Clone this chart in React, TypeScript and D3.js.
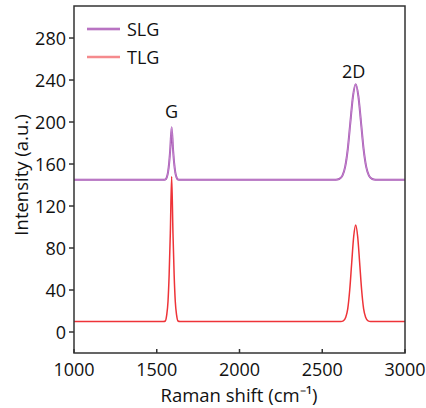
import React from "react";
import * as d3 from "d3";

const tlgX = [1000, 1540, 1552, 1560, 1568, 1575, 1582, 1590, 1598, 1605, 1612, 1620, 1628, 1640, 2612, 2627, 2642, 2654, 2666, 2678, 2690, 2702, 2714, 2726, 2738, 2750, 2762, 2777, 2792, 3000];
const tlgY = [10, 10, 10.5, 16, 29, 55, 94, 148, 94, 55, 29, 16, 10.5, 10, 10, 10.6, 14, 22, 40, 66, 91, 102, 91, 66, 40, 22, 14, 10.6, 10, 10];
const slgX = [1000, 1540, 1552, 1560, 1568, 1575, 1582, 1590, 1598, 1605, 1612, 1620, 1628, 1640, 2582, 2602, 2622, 2638, 2654, 2670, 2686, 2702, 2718, 2734, 2750, 2766, 2782, 2802, 2822, 3000];
const slgY = [145, 145, 145.2, 147, 152, 161, 175, 195, 175, 161, 152, 147, 145.2, 145, 145, 145.7, 149, 157, 174, 200, 225, 236, 225, 200, 174, 157, 149, 145.7, 145, 145];
const xTicks = [1000, 1500, 2000, 2500, 3000];
const yTicks = [0, 40, 80, 120, 160, 200, 240, 280];
const seriesNames = ["SLG", "TLG"];
const peakLabels = [
  { text: "G", x: 1590, y: 204 },
  { text: "2D", x: 2690, y: 242 },
];

const W = 426, H = 408;
const L = 74, R = 405, T = 6, B = 353;
const font = "'Open Sans', sans-serif";

export default function App() {
  const x = d3.scaleLinear().domain([1000, 3000]).range([L, R]);
  const y = d3.scaleLinear().domain([-20, 310.5]).range([B, T]);
  const line = d3
    .line<[number, number]>()
    .x((d) => x(d[0]))
    .y((d) => y(d[1]))
    .curve(d3.curveMonotoneX);
  const tlg = tlgX.map((v, i) => [v, tlgY[i]] as [number, number]);
  const slg = slgX.map((v, i) => [v, slgY[i]] as [number, number]);
  const axisColor = "#333";
  return (
    <svg width={W} height={H} style={{ position: "absolute", left: 0, top: 0 }} fontFamily={font}>
      <rect x={0} y={0} width={W} height={H} fill="#fff" />
      <path d={line(slg) || ""} fill="none" stroke="#a352b0" strokeWidth={2} />
      <path d={line(slg) || ""} fill="none" stroke="#d9a6e0" strokeWidth={0.6} />
      <path d={line(tlg) || ""} fill="none" stroke="#ee3338" strokeWidth={1.5} />
      {peakLabels.map((p) => (
        <text key={p.text} x={x(p.x)} y={y(p.y)} textAnchor="middle" fontSize={18} fill="#111">
          {p.text}
        </text>
      ))}
      <rect x={L} y={T} width={R - L} height={B - T} fill="none" stroke={axisColor} strokeWidth={1.5} />
      {xTicks.map((t) => (
        <g key={t}>
          <line x1={x(t)} x2={x(t)} y1={B} y2={B - 4} stroke={axisColor} strokeWidth={1.5} />
          <text x={x(t)} y={B + 23} textAnchor="middle" fontSize={18} fill="#111">
            {t}
          </text>
        </g>
      ))}
      {yTicks.map((t) => (
        <g key={t}>
          <line x1={L} x2={L - 5} y1={y(t)} y2={y(t)} stroke={axisColor} strokeWidth={1.5} />
          <text x={L - 8} y={y(t) + 6.5} textAnchor="end" fontSize={18} fill="#111">
            {t}
          </text>
        </g>
      ))}
      <text x={239} y={401.5} textAnchor="middle" fontSize={18.5} fill="#111">
        Raman shift (cm⁻¹)
      </text>
      <text transform={`translate(28,175) rotate(-90)`} textAnchor="middle" fontSize={18.5} fill="#111">
        Intensity (a.u.)
      </text>
      {seriesNames.map((n, i) => (
        <g key={n}>
          <line x1={87} x2={120} y1={29 + i * 28} y2={29 + i * 28} stroke={i === 0 ? "#a352b0" : "#f58a8d"} strokeWidth={2.5} />
          {i === 0 && <line x1={87} x2={120} y1={29} y2={29} stroke="#d9a6e0" strokeWidth={0.8} />}
          <text x={127} y={36 + i * 28} fontSize={18} fill="#111">
            {n}
          </text>
        </g>
      ))}
    </svg>
  );
}
